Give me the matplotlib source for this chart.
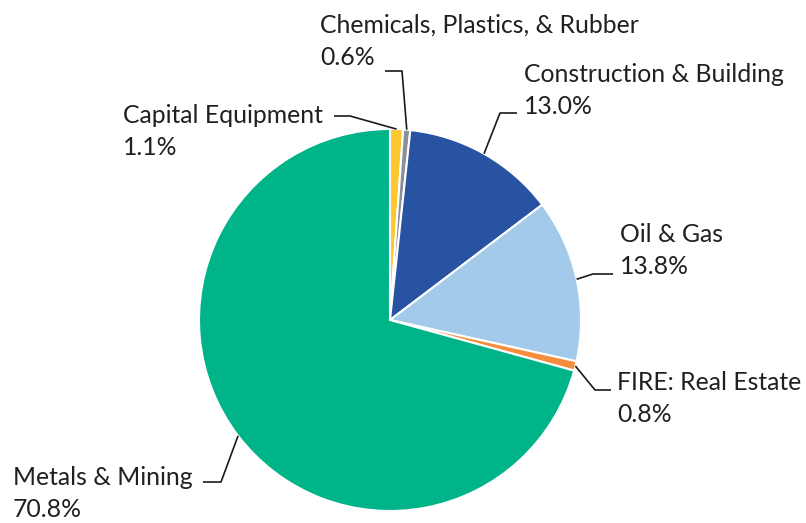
import numpy as np
import matplotlib.pyplot as plt

plt.rcParams['font.family'] = ['Lato', 'DejaVu Sans']

# data
sectors = ["Capital Equipment", "Chemicals, Plastics, & Rubber", "Construction & Building",
           "Oil & Gas", "FIRE: Real Estate", "Metals & Mining"]
shares = [1.1, 0.6, 13.0, 13.8, 0.8, 70.8]
share_labels = ["1.1%", "0.6%", "13.0%", "13.8%", "0.8%", "70.8%"]
colors = ["#FDC82F", "#8B8E9B", "#2753A2", "#A3C9EB", "#F58D3C", "#00B48A"]

# label layout in image pixels (y down): text x, first baseline, elbow, line end
text_pos = [(123, 123), (320, 33), (524, 82), (620, 242), (617, 390), (13, 485)]
elbows = [(350, 116), (402, 71), (500, 113), (593, 274), (595, 390), (221, 482)]
ends = [(334, 116), (385, 71), (517, 113), (613, 274), (611, 390), (203, 482)]

W, H = 806, 523
fig = plt.figure(figsize=(W / 100, H / 100), dpi=100)
ax = fig.add_axes([0, 0, 1, 1])

cx, cy, r = 390, H - 320, 191
wedges, _ = ax.pie(shares, colors=colors, startangle=90, counterclock=False,
                   center=(cx, cy), radius=r,
                   wedgeprops=dict(edgecolor='white', linewidth=1.5))
ax.set_xlim(0, W)
ax.set_ylim(0, H)
ax.axis('off')

fs = 17.8
tc = '#231F20'
for w, name, pct, tp, el, en in zip(wedges, sectors, share_labels, text_pos, elbows, ends):
    mid = np.deg2rad((w.theta1 + w.theta2) / 2)
    sx, sy = cx + r * np.cos(mid), cy + r * np.sin(mid)
    ax.plot([sx, el[0], en[0]], [sy, H - el[1], H - en[1]], color='#1a1a1a', lw=1.2,
            solid_capstyle='butt', zorder=3)
    ax.text(tp[0], H - tp[1], name, fontsize=fs, color=tc, va='baseline', ha='left')
    ax.text(tp[0], H - tp[1] - 32, pct, fontsize=fs, color=tc, va='baseline', ha='left')

fig.savefig('out.png', dpi=100)
